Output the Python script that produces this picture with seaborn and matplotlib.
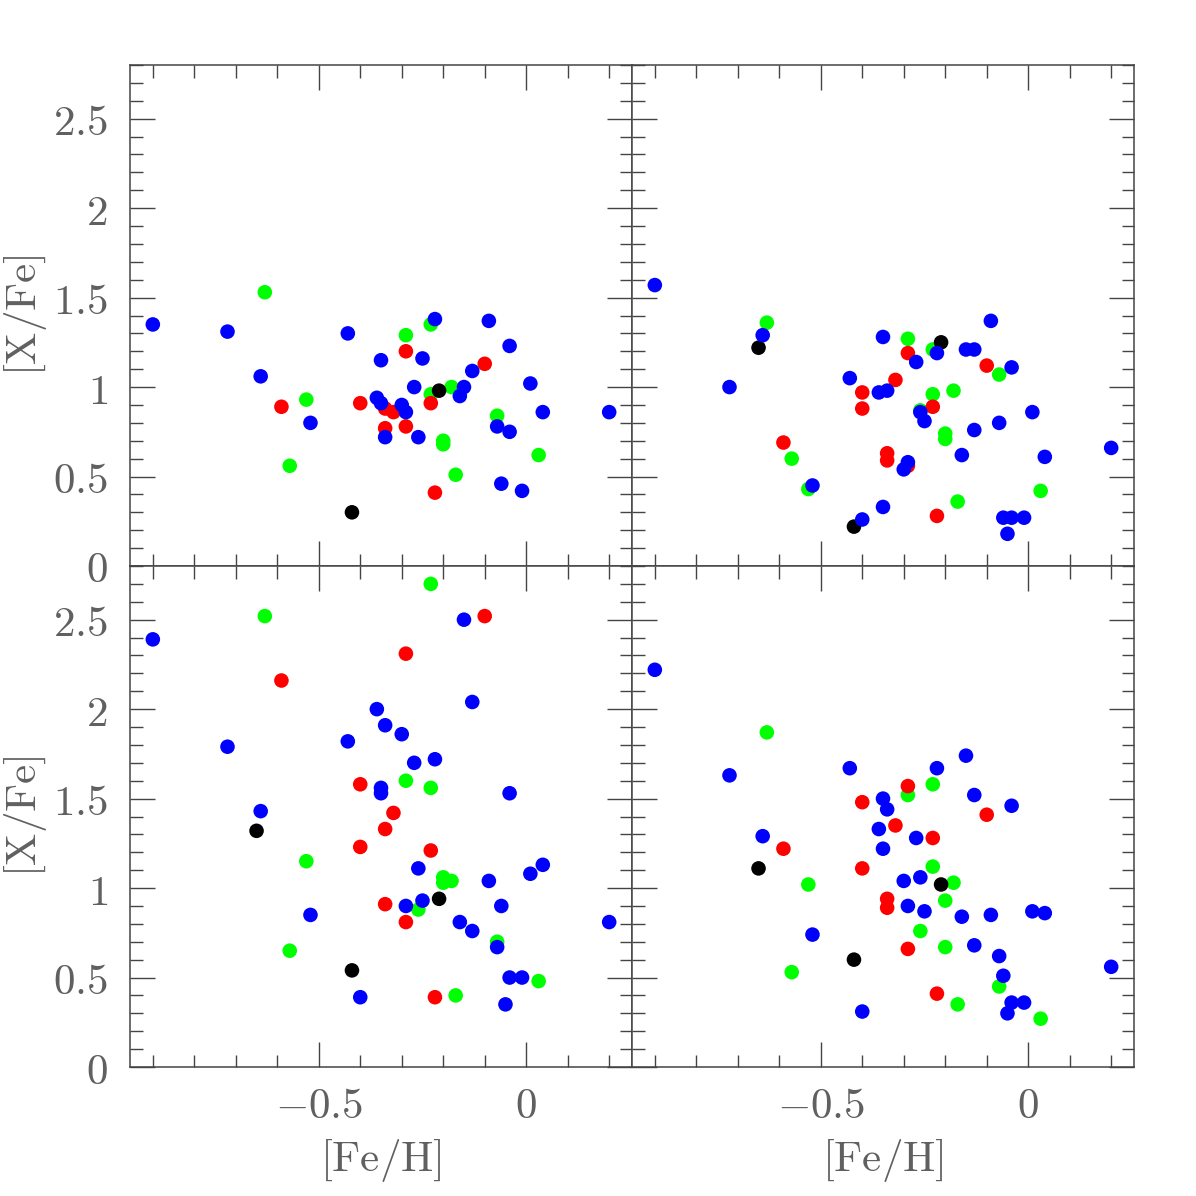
import numpy as np
import pandas as pd
import matplotlib
matplotlib.use('Agg')
import matplotlib.pyplot as plt
import seaborn as sns
from matplotlib.ticker import MultipleLocator, FuncFormatter

# [Fe/H], [X/Fe] and group for each panel (g=green, r=red, k=black, b=blue)
feh_tl = [-0.90, -0.72, -0.63, -0.64, -0.59, -0.53, -0.52, -0.57, -0.43, -0.42,
          -0.40, -0.35, -0.36, -0.35, -0.34, -0.32, -0.34, -0.34, -0.29, -0.29,
          -0.30, -0.29, -0.29, -0.27, -0.26, -0.25, -0.23, -0.22, -0.23, -0.23,
          -0.21, -0.22, -0.20, -0.20, -0.18, -0.17, -0.15, -0.16, -0.13, -0.10,
          -0.09, -0.07, -0.07, -0.06, -0.04, -0.04, -0.01, 0.01, 0.03, 0.04, 0.20]
xfe_tl = [1.35, 1.31, 1.53, 1.06, 0.89, 0.93, 0.80, 0.56, 1.30, 0.30,
          0.91, 1.15, 0.94, 0.91, 0.88, 0.86, 0.77, 0.72, 1.29, 1.20,
          0.90, 0.86, 0.78, 1.00, 0.72, 1.16, 1.35, 1.38, 0.96, 0.91,
          0.98, 0.41, 0.70, 0.68, 1.00, 0.51, 1.00, 0.95, 1.09, 1.13,
          1.37, 0.84, 0.78, 0.46, 1.23, 0.75, 0.42, 1.02, 0.62, 0.86, 0.86]
grp_tl = list("bbgbrgbgbk" "rbbbrrrbgr" "bbrbbbgbgr" "krggggbbbr" "bgbbbbbbgb" "b")

feh_tr = [-0.90, -0.63, -0.64, -0.65, -0.72, -0.59, -0.57, -0.53, -0.52, -0.43,
          -0.42, -0.40, -0.40, -0.40, -0.36, -0.35, -0.35, -0.34, -0.34, -0.34,
          -0.32, -0.29, -0.29, -0.29, -0.29, -0.30, -0.27, -0.26, -0.26, -0.25,
          -0.23, -0.22, -0.21, -0.23, -0.23, -0.22, -0.20, -0.20, -0.18, -0.17,
          -0.16, -0.15, -0.13, -0.13, -0.10, -0.09, -0.07, -0.07, -0.06, -0.04,
          -0.05, -0.04, -0.01, 0.01, 0.03, 0.04, 0.20]
xfe_tr = [1.57, 1.36, 1.29, 1.22, 1.00, 0.69, 0.60, 0.43, 0.45, 1.05,
          0.22, 0.26, 0.97, 0.88, 0.97, 1.28, 0.33, 0.98, 0.63, 0.59,
          1.04, 1.27, 1.19, 0.58, 0.56, 0.54, 1.14, 0.86, 0.87, 0.81,
          1.21, 1.19, 1.25, 0.96, 0.89, 0.28, 0.74, 0.71, 0.98, 0.36,
          0.62, 1.21, 1.21, 0.76, 1.12, 1.37, 1.07, 0.80, 0.27, 0.27,
          0.18, 1.11, 0.27, 0.86, 0.42, 0.61, 0.66]
grp_tr = list("bgbkbrggbb" "kbrrbbbbrr" "rgrbrbbbgb" "gbkgrrgggg" "bbbbrbgbbb" "bbbbgbb")

feh_bl = [-0.90, -0.72, -0.63, -0.64, -0.65, -0.59, -0.53, -0.52, -0.57, -0.43,
          -0.42, -0.40, -0.40, -0.40, -0.36, -0.34, -0.35, -0.35, -0.32, -0.34,
          -0.34, -0.30, -0.29, -0.29, -0.29, -0.29, -0.27, -0.26, -0.26, -0.25,
          -0.23, -0.22, -0.23, -0.23, -0.21, -0.22, -0.20, -0.20, -0.18, -0.17,
          -0.15, -0.16, -0.13, -0.13, -0.10, -0.09, -0.07, -0.07, -0.06, -0.04,
          -0.04, -0.01, 0.01, 0.03, 0.04, 0.20, -0.05]
xfe_bl = [2.39, 1.79, 2.52, 1.43, 1.32, 2.16, 1.15, 0.85, 0.65, 1.82,
          0.54, 1.58, 1.23, 0.39, 2.00, 1.91, 1.56, 1.53, 1.42, 1.33,
          0.91, 1.86, 2.31, 1.60, 0.90, 0.81, 1.70, 1.11, 0.88, 0.93,
          2.70, 1.72, 1.56, 1.21, 0.94, 0.39, 1.06, 1.03, 1.04, 0.40,
          2.50, 0.81, 2.04, 0.76, 2.52, 1.04, 0.70, 0.67, 0.90, 1.53,
          0.50, 0.50, 1.08, 0.48, 1.13, 0.81, 0.35]
grp_bl = list("bbgbkrgbgb" "krrbbbbbrr" "rbrgbrbbgb" "gbgrkrgggg" "bbbbrbgbbb" "bbbgbbb")

feh_br = [-0.90, -0.63, -0.72, -0.43, -0.15, -0.22, -0.29, -0.23, -0.29, -0.13,
          -0.40, -0.35, -0.34, -0.04, -0.10, -0.32, -0.36, -0.64, -0.27, -0.23,
          -0.59, -0.35, -0.65, -0.40, -0.23, -0.53, -0.30, -0.26, -0.21, -0.18,
          -0.34, -0.34, -0.29, -0.25, -0.20, -0.16, -0.09, 0.01, 0.04, -0.52,
          -0.26, -0.29, -0.20, -0.13, -0.07, -0.42, -0.57, -0.06, -0.07, -0.22,
          -0.17, -0.04, -0.01, -0.05, -0.40, 0.03, 0.20]
xfe_br = [2.22, 1.87, 1.63, 1.67, 1.74, 1.67, 1.57, 1.58, 1.52, 1.52,
          1.48, 1.50, 1.44, 1.46, 1.41, 1.35, 1.33, 1.29, 1.28, 1.28,
          1.22, 1.22, 1.11, 1.11, 1.12, 1.02, 1.04, 1.06, 1.02, 1.03,
          0.94, 0.89, 0.90, 0.87, 0.93, 0.84, 0.85, 0.87, 0.86, 0.74,
          0.76, 0.66, 0.67, 0.68, 0.62, 0.60, 0.53, 0.51, 0.45, 0.41,
          0.35, 0.36, 0.36, 0.30, 0.31, 0.27, 0.56]
grp_br = list("bgbbbbrggb" "rbbbrrbbbr" "rbkrggbbkg" "rrbbgbbbbb" "grgbbkgbgr" "gbbbbgb")

group_order = ['g', 'r', 'k', 'b']  # blue drawn on top
palette = {'g': '#00ff00', 'r': '#ff0000', 'k': '#000000', 'b': '#0000ff'}

sns.set_style('ticks')
plt.rcParams['mathtext.fontset'] = 'cm'
text_color = '#606060'
axis_color = '#444444'
fs = 31

fig, axes = plt.subplots(2, 2, figsize=(11.96, 11.96), dpi=100, sharex=True, sharey=True)
fig.subplots_adjust(left=130 / 1196, right=1134 / 1196, top=1 - 65 / 1196,
                    bottom=1 - 1067 / 1196, wspace=0, hspace=0)

panels = [(axes[0, 0], feh_tl, xfe_tl, grp_tl),
          (axes[0, 1], feh_tr, xfe_tr, grp_tr),
          (axes[1, 0], feh_bl, xfe_bl, grp_bl),
          (axes[1, 1], feh_br, xfe_br, grp_br)]

fmt = FuncFormatter(lambda v, pos: '${:g}$'.format(round(v, 2)))

for ax, feh, xfe, grp in panels:
    df = pd.DataFrame({'feh': feh, 'xfe': xfe, 'grp': grp})
    df['grp'] = pd.Categorical(df['grp'], categories=group_order, ordered=True)
    df = df.sort_values('grp', kind='stable')
    sns.scatterplot(data=df, x='feh', y='xfe', hue='grp', palette=palette,
                    hue_order=group_order, s=110, linewidth=0, legend=False, ax=ax, zorder=3)

    ax.set_xlim(-0.955, 0.255)
    ax.set_ylim(0, 2.8)
    ax.xaxis.set_major_locator(MultipleLocator(0.5))
    ax.xaxis.set_minor_locator(MultipleLocator(0.1))
    ax.yaxis.set_major_locator(MultipleLocator(0.5))
    ax.yaxis.set_minor_locator(MultipleLocator(0.1))
    ax.xaxis.set_major_formatter(fmt)
    ax.yaxis.set_major_formatter(fmt)
    ax.tick_params(which='both', direction='in', top=True, right=True,
                   color=axis_color, width=1.0, labelsize=fs, labelcolor=text_color)
    ax.tick_params(which='major', length=18)
    ax.tick_params(which='minor', length=9)
    ax.tick_params(axis='y', which='major', pad=16)
    ax.tick_params(axis='x', which='major', pad=13)
    for sp in ax.spines.values():
        sp.set_color(axis_color)
        sp.set_linewidth(1.1)
    ax.set_xlabel('')
    ax.set_ylabel('')

for ax in axes[:, 0]:
    ax.set_ylabel(r'$\mathrm{[X/Fe]}$', fontsize=fs, color=text_color)
    ax.yaxis.set_label_coords(-0.162, 0.5)
for ax in axes[1, :]:
    ax.set_xlabel(r'$\mathrm{[Fe/H]}$', fontsize=fs, color=text_color)
    ax.xaxis.set_label_coords(0.5, -0.14)

plt.savefig('out.png', dpi=100)
plt.close()
